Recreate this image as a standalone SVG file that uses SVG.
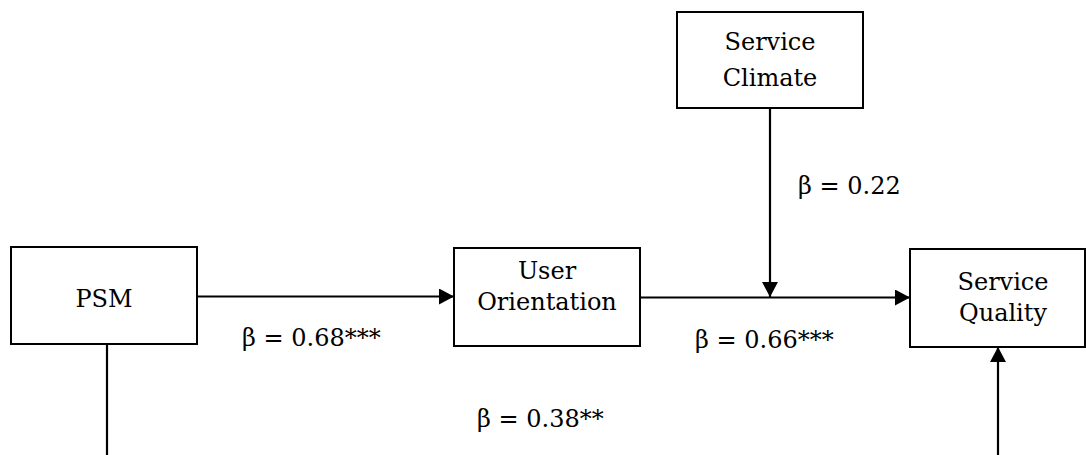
<svg xmlns="http://www.w3.org/2000/svg" width="1086" height="455" viewBox="0 0 1086 455">
<style>
.box{fill:#fff;stroke:#000;stroke-width:2}
.t{font-family:"DejaVu Serif","Liberation Serif",serif;font-size:24px;fill:#000;text-anchor:middle}
.lbl{font-family:"DejaVu Serif","Liberation Serif",serif;font-size:24px;fill:#000}
.c{stroke:#000;stroke-width:2.2;fill:none}
</style>
<defs>
<marker id="ah" markerUnits="userSpaceOnUse" markerWidth="15" markerHeight="16" refX="15" refY="8" orient="auto">
<path d="M0,0 L15,8 L0,16 Z" fill="#000"/>
</marker>
</defs>
<rect width="1086" height="455" fill="#fff"/>
<g id="connectors">
<line class="c" x1="197" y1="296.5" x2="454" y2="296.5" marker-end="url(#ah)"/>
<line class="c" x1="640" y1="297.5" x2="910" y2="297.5" marker-end="url(#ah)"/>
<line class="c" x1="770" y1="108" x2="770" y2="297" marker-end="url(#ah)"/>
<line class="c" x1="107" y1="344" x2="107" y2="455"/>
<line class="c" x1="998" y1="455" x2="998" y2="347" marker-end="url(#ah)"/>
</g>
<g id="psm">
<rect class="box" x="11" y="247" width="186" height="97"/>
<text class="t" x="104" y="307">PSM</text>
</g>
<g id="user-orientation">
<rect class="box" x="454" y="248" width="186" height="98"/>
<text class="t" x="547" y="279">User</text>
<text class="t" x="547" y="310">Orientation</text>
</g>
<g id="service-quality">
<rect class="box" x="910" y="249" width="175" height="98"/>
<text class="t" x="1003" y="290">Service</text>
<text class="t" x="1003" y="321">Quality</text>
</g>
<g id="service-climate">
<rect class="box" x="677" y="12" width="186" height="96"/>
<text class="t" x="770" y="50">Service</text>
<text class="t" x="770" y="86">Climate</text>
</g>
<g id="labels">
<text class="lbl" x="798" y="194">β = 0.22</text>
<text class="lbl" x="242" y="346">β = 0.68***</text>
<text class="lbl" x="695" y="348">β = 0.66***</text>
<text class="lbl" x="477" y="427">β = 0.38**</text>
</g>
</svg>
